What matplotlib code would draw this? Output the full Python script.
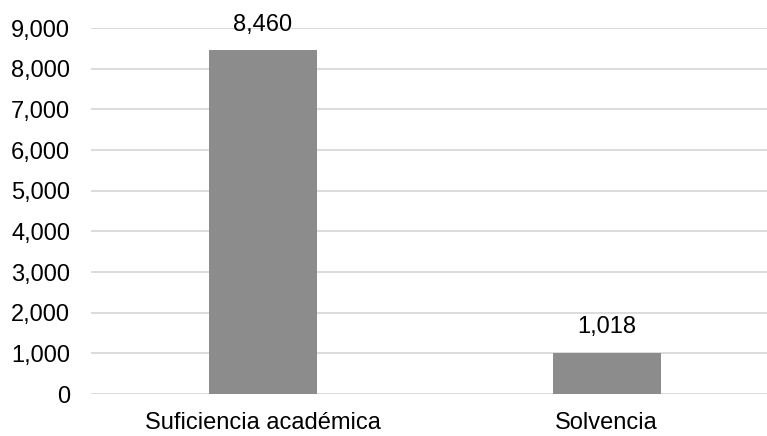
import matplotlib
matplotlib.use("Agg")
import matplotlib.pyplot as plt
from matplotlib.ticker import FuncFormatter, MultipleLocator

categories = ["Suficiencia académica", "Solvencia"]
values = [8460, 1018]

plt.rcParams['font.family'] = ['Liberation Sans', 'DejaVu Sans']

W, H = 767, 436
fig = plt.figure(figsize=(W/100, H/100), dpi=100)
left, right = 91, 778.5
bottom, top = 394, 28
ax = fig.add_axes([left/W, 1 - bottom/H, (right-left)/W, (bottom-top)/H])

fs = 17
x = list(range(len(categories)))
ax.bar(x, values, width=0.314, color='#8c8c8c', zorder=3)
ax.set_xlim(-0.5, 1.5)
ax.set_ylim(0, 9000)
ax.yaxis.set_major_locator(MultipleLocator(1000))
ax.yaxis.set_major_formatter(FuncFormatter(lambda v, p: f"{int(v):,}"))
ax.grid(axis='y', color='#d9d9d9', linewidth=1.3, zorder=0)
for s in ax.spines.values():
    s.set_visible(False)
ax.tick_params(axis='both', length=0, labelsize=fs, colors='black')
ax.tick_params(axis='y', pad=15)
ax.tick_params(axis='x', pad=13)
ax.set_xticks(x)
ax.set_xticklabels(categories)

for xi, v in zip(x, values):
    ax.annotate(f"{v:,}", (xi, v), xytext=(0, 14), textcoords='offset points',
                ha='center', va='baseline', fontsize=fs, color='black', clip_on=False)

fig.savefig("out.png", dpi=100)
